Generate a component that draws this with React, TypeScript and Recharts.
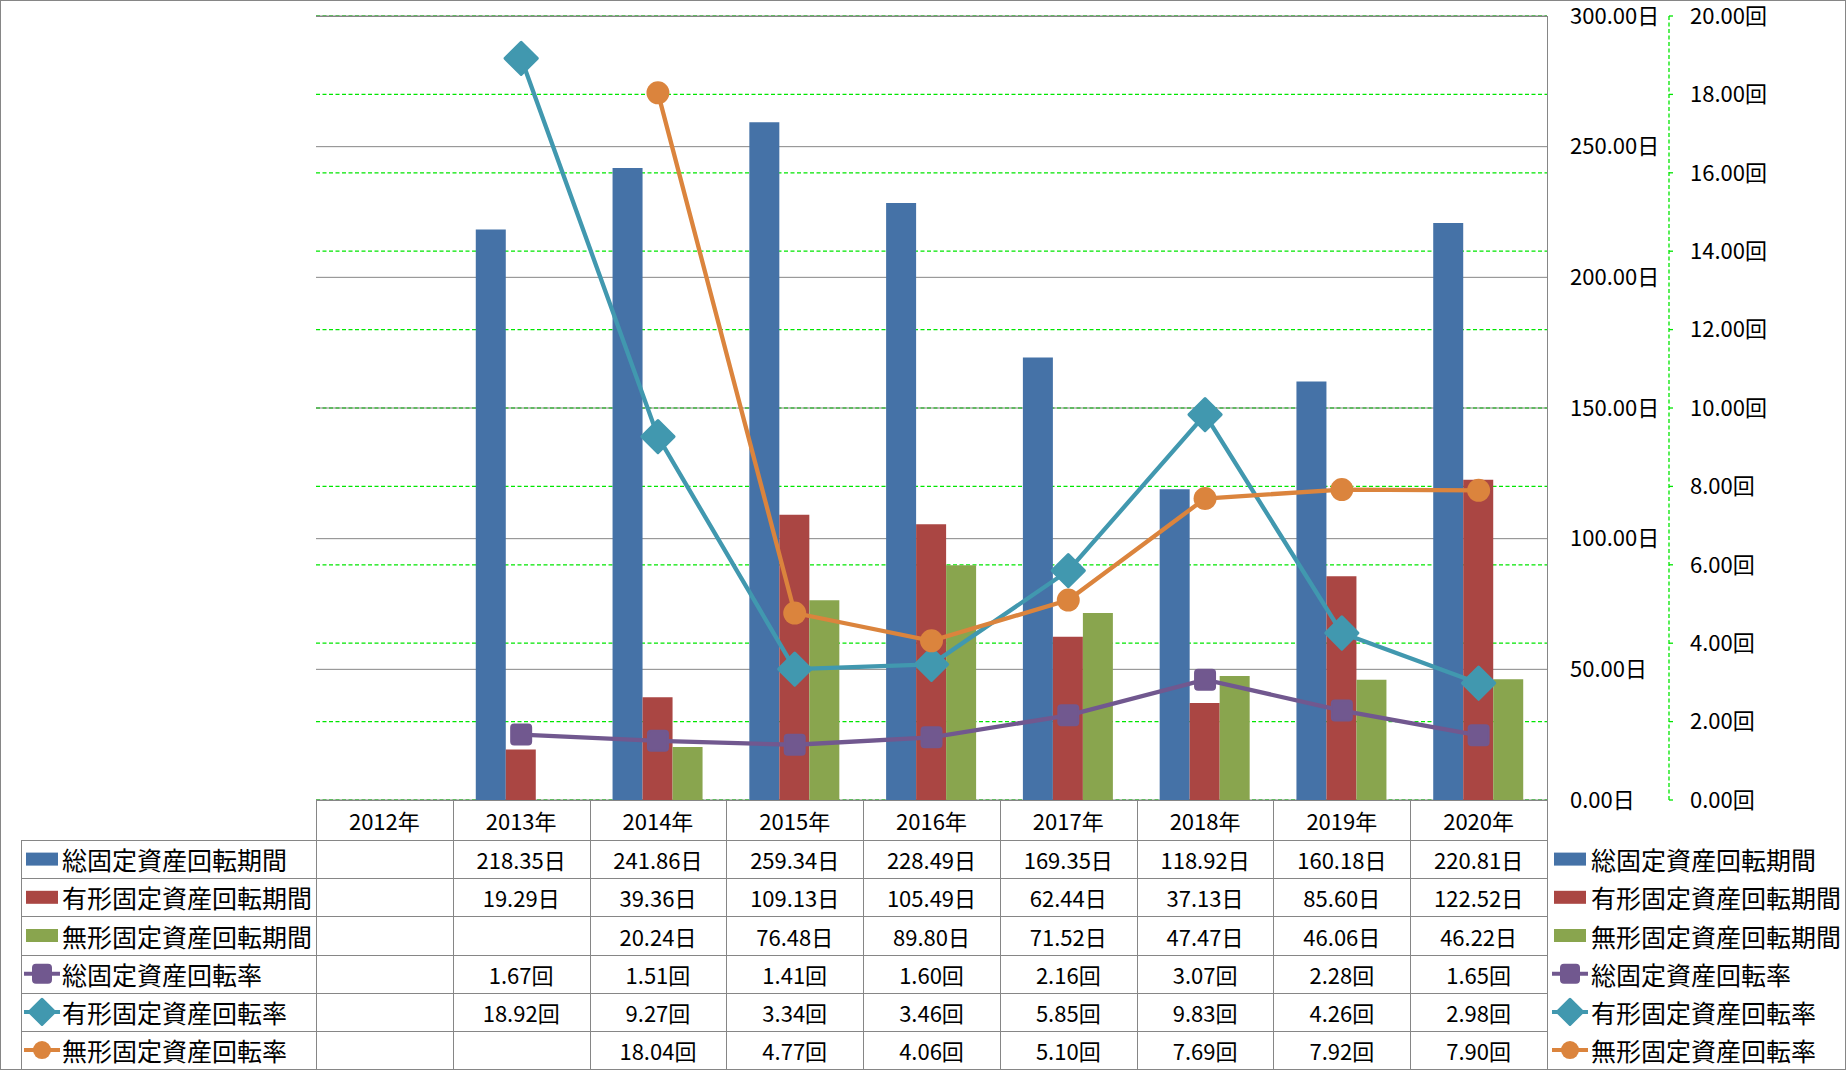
import { ComposedChart, Bar, Line, XAxis, YAxis, CartesianGrid } from 'recharts';

const FONT = "'Noto Sans CJK JP', 'Noto Sans', sans-serif";
const GRID = '#868686';
const GREEN = '#00E600';

// categories
const years = ['2012年', '2013年', '2014年', '2015年', '2016年', '2017年', '2018年', '2019年', '2020年'];

// bars (日)
const totalPeriod = [null, 218.35, 241.86, 259.34, 228.49, 169.35, 118.92, 160.18, 220.81];
const tangiblePeriod = [null, 19.29, 39.36, 109.13, 105.49, 62.44, 37.13, 85.6, 122.52];
const intangiblePeriod = [null, null, 20.24, 76.48, 89.8, 71.52, 47.47, 46.06, 46.22];

// lines (回)
const totalTurnover = [null, 1.67, 1.51, 1.41, 1.6, 2.16, 3.07, 2.28, 1.65];
const tangibleTurnover = [null, 18.92, 9.27, 3.34, 3.46, 5.85, 9.83, 4.26, 2.98];
const intangibleTurnover = [null, null, 18.04, 4.77, 4.06, 5.1, 7.69, 7.92, 7.9];

const dayTicks = [0, 50, 100, 150, 200, 250, 300];
const timeTicks = [0, 2, 4, 6, 8, 10, 12, 14, 16, 18, 20];

const series = [
    { key: 'totalPeriod', name: '総固定資産回転期間', color: '#4572A7', kind: 'bar', unit: '日', values: totalPeriod },
    { key: 'tangiblePeriod', name: '有形固定資産回転期間', color: '#AA4643', kind: 'bar', unit: '日', values: tangiblePeriod },
    { key: 'intangiblePeriod', name: '無形固定資産回転期間', color: '#89A54E', kind: 'bar', unit: '日', values: intangiblePeriod },
    { key: 'totalTurnover', name: '総固定資産回転率', color: '#71588F', kind: 'square', unit: '回', values: totalTurnover },
    { key: 'tangibleTurnover', name: '有形固定資産回転率', color: '#4198AF', kind: 'diamond', unit: '回', values: tangibleTurnover },
    { key: 'intangibleTurnover', name: '無形固定資産回転率', color: '#DB843D', kind: 'circle', unit: '回', values: intangibleTurnover },
];

const data = years.map((year, i) => {
    const row: any = { year };
    series.forEach((s) => { row[s.key] = s.values[i]; });
    return row;
});

// layout of the frame and data table
const W = 1847, H = 1071;
const PLOT_L = 316, PLOT_R = 1547, PLOT_T = 16, PLOT_B = 800;
const HEAD_B = 840, ROW_H = 38.2, TABLE_L = 21;
const BAND = (PLOT_R - PLOT_L) / years.length;

const marker = (kind: string, color: string, cx: number, cy: number, s: number, k?: any) => {
    if (kind === 'square') {
        return <rect key={k} x={cx - s / 2} y={cy - s / 2} width={s} height={s} rx={3} fill={color} stroke={color} strokeWidth={2} />;
    }
    if (kind === 'diamond') {
        const r = s * 0.7;
        return <polygon key={k} points={`${cx},${cy - r} ${cx + r},${cy} ${cx},${cy + r} ${cx - r},${cy}`}
            fill={color} stroke={color} strokeWidth={3} strokeLinejoin="round" />;
    }
    if (kind === 'circle') {
        return <circle key={k} cx={cx} cy={cy} r={s / 2} fill={color} />;
    }
    return null;
};

const makeDot = (kind: string, color: string, size: number) => (p: any) => {
    if (p.value == null || p.cy == null) return <g key={`e-${p.index}`} />;
    return marker(kind, color, p.cx, p.cy, size, `d-${p.index}`);
};

const fmt = (v: number | null, unit: string) => (v == null ? '' : `${v.toFixed(2)}${unit}`);

const TableColumn = ({ x, y, index }: any) => (
    <g fontFamily={FONT} fill="#000">
        <text x={x} y={y + 20} textAnchor="middle" dominantBaseline="central" fontSize={22}>{years[index]}</text>
        {series.map((s, r) => (
            <text key={s.key} x={x} y={HEAD_B + ROW_H * (r + 0.5)} textAnchor="middle" dominantBaseline="central" fontSize={22}>
                {fmt(s.values[index], s.unit)}
            </text>
        ))}
    </g>
);

const LegendKey = ({ s, x, y }: any) => {
    if (s.kind === 'bar') return <rect x={x} y={y - 6.5} width={32} height={13} fill={s.color} />;
    return (
        <g>
            <line x1={x - 2} x2={x + 34} y1={y} y2={y} stroke={s.color} strokeWidth={4} />
            {marker(s.kind, s.color, x + 16, y, 18)}
        </g>
    );
};

export default function App() {
    const rowLines = series.map((_, r) => HEAD_B + ROW_H * r);
    return (
        <div style={{ position: 'absolute', left: 0, top: 0, width: W, height: H, background: '#fff' }}>
            <ComposedChart width={W} height={H} data={data} barGap={0} barSize={30}
                margin={{ top: PLOT_T, right: 28, bottom: 2, left: PLOT_L }}>
                <CartesianGrid yAxisId="times" vertical={false} stroke={GREEN} strokeWidth={1.3} strokeDasharray="4 2.5" />
                <CartesianGrid yAxisId="days" vertical={false} stroke={GRID} strokeWidth={1} />
                <XAxis dataKey="year" height={269} axisLine={false} tickLine={false} tickSize={0} tickMargin={0}
                    interval={0} tick={<TableColumn />} />
                <YAxis yAxisId="days" orientation="right" width={122} domain={[0, 300]} ticks={dayTicks}
                    axisLine={false} tickLine={false} tickSize={0} tickMargin={23}
                    tickFormatter={(v) => `${Number(v).toFixed(2)}日`}
                    tick={{ fontSize: 22, fill: '#000', fontFamily: FONT }} />
                <YAxis yAxisId="times" orientation="right" width={150} domain={[0, 20]} ticks={timeTicks}
                    axisLine={{ stroke: GREEN, strokeDasharray: '4 2.5', strokeWidth: 1.3 }}
                    tickLine={{ stroke: GREEN, strokeWidth: 1.3 }} tickSize={4} tickMargin={17}
                    tickFormatter={(v) => `${Number(v).toFixed(2)}回`}
                    tick={{ fontSize: 22, fill: '#000', fontFamily: FONT }} />
                {series.filter((s) => s.kind === 'bar').map((s) => (
                    <Bar key={s.key} yAxisId="days" dataKey={s.key} name={s.name} fill={s.color} isAnimationActive={false} />
                ))}
                {series.filter((s) => s.kind !== 'bar').map((s) => (
                    <Line key={s.key} yAxisId="times" type="linear" dataKey={s.key} name={s.name} stroke={s.color}
                        strokeWidth={4.3} isAnimationActive={false}
                        dot={makeDot(s.kind, s.color, s.kind === 'diamond' ? 23 : s.kind === 'circle' ? 23 : 20)}
                        activeDot={false} />
                ))}
            </ComposedChart>

            {/* data table frame + legends */}
            <svg width={W} height={H} style={{ position: 'absolute', left: 0, top: 0, pointerEvents: 'none' }}>
                <rect x={0.5} y={0.5} width={W - 2} height={H - 2} fill="none" stroke={GRID} />
                <line x1={PLOT_L} x2={PLOT_R} y1={PLOT_T + 0.5} y2={PLOT_T + 0.5} stroke={GRID} />
                <line x1={PLOT_L} x2={PLOT_R} y1={PLOT_B + 0.5} y2={PLOT_B + 0.5} stroke={GRID} />
                {rowLines.map((y) => (
                    <line key={y} x1={TABLE_L} x2={PLOT_R} y1={Math.round(y) + 0.5} y2={Math.round(y) + 0.5} stroke={GRID} />
                ))}
                <line x1={TABLE_L + 0.5} x2={TABLE_L + 0.5} y1={HEAD_B} y2={H - 1} stroke={GRID} />
                {years.map((_, i) => (
                    <line key={i} x1={Math.round(PLOT_L + BAND * i) + 0.5} x2={Math.round(PLOT_L + BAND * i) + 0.5}
                        y1={PLOT_B} y2={H - 1} stroke={GRID} />
                ))}
                <line x1={PLOT_R + 0.5} x2={PLOT_R + 0.5} y1={PLOT_T} y2={H - 1} stroke={GRID} />
                <g fontFamily={FONT} fontSize={25} fill="#000">
                    {series.map((s, r) => {
                        const cy = HEAD_B + ROW_H * (r + 0.5);
                        return (
                            <g key={s.key}>
                                <LegendKey s={s} x={26} y={cy} />
                                <text x={62} y={cy} dominantBaseline="central">{s.name}</text>
                                <LegendKey s={s} x={1554} y={cy} />
                                <text x={1591} y={cy} dominantBaseline="central">{s.name}</text>
                            </g>
                        );
                    })}
                </g>
            </svg>
        </div>
    );
}
